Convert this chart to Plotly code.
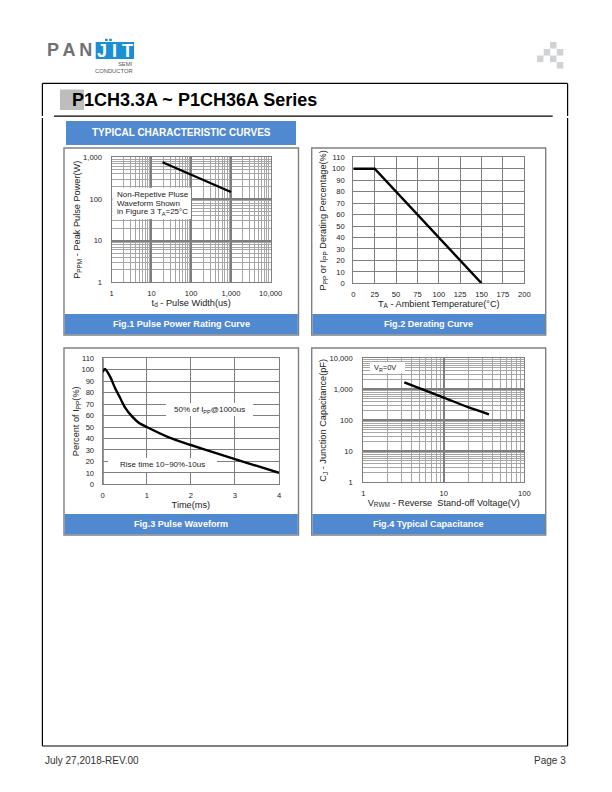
import plotly.graph_objects as go

# ---- data ----
fig1_width_us = [19, 100, 1000]
fig1_power_w = [760, 382, 147]
fig1_xticks = [1, 10, 100, 1000, 10000]
fig1_xlabels = ["1", "10", "100", "1,000", "10,000"]
fig1_yticks = [1, 10, 100, 1000]
fig1_ylabels = ["1", "10", "100", "1,000"]

fig2_temp = [0, 25, 150]
fig2_pct = [100, 100, 0]
fig2_xticks = [0, 25, 50, 75, 100, 125, 150, 175, 200]
fig2_yticks = [0, 10, 20, 30, 40, 50, 60, 70, 80, 90, 100, 110]

fig3_time = [0, 0.05, 0.167, 0.28, 0.394, 0.508, 0.66, 0.81, 1, 1.5, 2, 2.5, 3, 3.5, 4]
fig3_pct = [98, 100.6, 94, 84, 75.5, 67, 59.5, 54, 50, 41, 34.3, 28, 22, 16, 10]
fig3_xticks = [0, 1, 2, 3, 4]
fig3_yticks = [0, 10, 20, 30, 40, 50, 60, 70, 80, 90, 100, 110]

fig4_volt = [3.23, 10, 20, 36.4]
fig4_cap = [1680, 540, 265, 156]
fig4_xticks = [1, 10, 100]
fig4_xlabels = ["1", "10", "100"]
fig4_yticks = [1, 10, 100, 1000, 10000]
fig4_ylabels = ["1", "10", "100", "1,000", "10,000"]

captions = ["Fig.1 Pulse Power Rating Curve", "Fig.2 Derating Curve",
            "Fig.3 Pulse Waveform", "Fig.4 Typical Capacitance"]

W, H = 612, 792
FONT = "Liberation Sans"
BLUE = "#5189d1"
GREY = "#808080"
INK = "#222222"

def px(x):
    return x / W

def py(y):
    return 1 - y / H

fig = go.Figure()
shapes = []
notes = []

def rect(x0, y0, x1, y1, fill=None, line=None, lw=0, layer="below"):
    shapes.append(dict(type="rect", xref="paper", yref="paper", x0=px(x0), x1=px(x1),
                       y0=py(y0), y1=py(y1), fillcolor=fill or "rgba(0,0,0,0)",
                       line=dict(color=line or "rgba(0,0,0,0)", width=lw), layer=layer))

def hv(x0, y0, x1, y1, color="#000000", lw=1.2):
    shapes.append(dict(type="line", xref="paper", yref="paper", x0=px(x0), x1=px(x1),
                       y0=py(y0), y1=py(y1), line=dict(color=color, width=lw), layer="below"))

def text(x, y, s, size=8, color=INK, anchor="center", bold=False, rot=0):
    if bold:
        s = "<b>" + s + "</b>"
    notes.append(dict(xref="paper", yref="paper", x=px(x), y=py(y), text=s, showarrow=False,
                      xanchor=anchor, yanchor="middle", align="left", textangle=rot,
                      borderpad=0, borderwidth=0,
                      font=dict(family=FONT, size=size, color=color)))

# page frame
hv(42.4, 83.4, 567.6, 83.4)
hv(42.4, 83.4, 42.4, 116)
hv(42.4, 118, 42.4, 746)
hv(567.6, 83.4, 567.6, 116)
hv(567.6, 118, 567.6, 746)
hv(42.4, 746, 567.6, 746)
hv(54, 116.2, 552.7, 116.2)

# title
rect(60, 89.5, 84, 110, fill="#bdbdbd")
text(72, 99.5, "P1CH3.3A ~ P1CH36A Series", size=18, color="#000000", anchor="left", bold=True)
rect(66, 121, 296, 145, fill=BLUE)
text(181, 132.5, "TYPICAL CHARACTERISTIC CURVES", size=10, color="#ffffff", bold=True)

# logo
text(47, 50, "P\u2009A\u2009N", size=18, color="#707174", anchor="left", bold=True)
rect(95.7, 42, 134, 59, fill="#1b8fd6")
text(115, 51, "J I T", size=18, color="#ffffff", bold=True)
rect(105, 38.8, 107.7, 41, fill="#1b8fd6")
rect(109.2, 38.8, 111.9, 41, fill="#1b8fd6")
text(132.8, 63.8, "SEMI", size=5.8, color="#555555", anchor="right")
text(132.8, 70.6, "CONDUCTOR", size=5.8, color="#555555", anchor="right")

# corner squares
for (a, b) in [(550, 42), (543.7, 49), (556.8, 49), (537, 55.5), (550, 55.5), (556.8, 62)]:
    rect(a, b, a + 6.5, b + 6.6, fill="#d0d3d6")

# footer
text(45, 760.5, "July 27,2018-REV.00", size=10, color="#333333", anchor="left")
text(566, 760.5, "Page 3", size=10, color="#333333", anchor="right")

# panels
panels = [(64, 148, 298.5, 335), (311.7, 148, 545.7, 335),
          (64, 348, 298.5, 535), (311.7, 348, 545.7, 535)]
for (x0, y0, x1, y1), cap in zip(panels, captions):
    rect(x0, y0, x1, y1, fill="#ffffff", line=GREY, lw=1.4)
    rect(x0 + 0.7, y1 - 21, x1 - 0.7, y1 - 0.7, fill=BLUE)
    text((x0 + x1) / 2, y1 - 11.3, cap, size=9.1, color="#ffffff", bold=True)

MAJOR = dict(showgrid=True, gridcolor="#7f7f7f", showline=True, linecolor="#7f7f7f",
             ticks="", zeroline=False, tickfont=dict(family=FONT, size=7.6, color=INK), mirror=True)

def title(s, standoff, size=9.2):
    return dict(text=s, font=dict(family=FONT, size=size, color=INK), standoff=standoff)

def logaxis(vals, labels, rng, dom, ttl, standoff, gw=1.5):
    return dict(MAJOR, type="log", range=rng, domain=dom, tickmode="array", tickvals=vals,
                ticktext=labels, gridwidth=gw, linewidth=1.2, automargin=False,
                minor=dict(showgrid=True, gridcolor="#a6a6a6", gridwidth=0.7, dtick="D1", ticks=""),
                title=title(ttl, standoff))

def linaxis(vals, rng, dom, ttl, standoff):
    return dict(MAJOR, type="linear", range=rng, domain=dom, tickmode="array", tickvals=vals,
                gridwidth=1, linewidth=1.2, automargin=False, title=title(ttl, standoff))

LINE = dict(color="#000000", width=2.4)

fig.add_trace(go.Scatter(x=fig1_width_us, y=fig1_power_w, mode="lines", line=LINE,
                         xaxis="x", yaxis="y", showlegend=False))
fig.add_trace(go.Scatter(x=fig2_temp, y=fig2_pct, mode="lines", line=LINE, cliponaxis=False,
                         xaxis="x2", yaxis="y2", showlegend=False))
fig.add_trace(go.Scatter(x=fig3_time, y=fig3_pct, mode="lines", cliponaxis=False,
                         line=dict(color="#000000", width=2.4, shape="spline", smoothing=0.8),
                         xaxis="x3", yaxis="y3", showlegend=False))
fig.add_trace(go.Scatter(x=fig4_volt, y=fig4_cap, mode="lines", cliponaxis=False,
                         line=dict(color="#000000", width=2.4, shape="spline", smoothing=0.8),
                         xaxis="x4", yaxis="y4", showlegend=False))

layout = dict(
    width=W, height=H, margin=dict(l=0, r=0, t=0, b=0), autosize=False,
    paper_bgcolor="#ffffff", plot_bgcolor="#ffffff", showlegend=False,
    xaxis=logaxis(fig1_xticks, fig1_xlabels, [0, 4], [px(111.7), px(270.7)],
                  "t<sub>d</sub> - Pulse Width(us)", 0),
    yaxis=logaxis(fig1_yticks, fig1_ylabels, [0, 3], [py(282.3), py(157.3)],
                  "P<sub>PPM</sub> - Peak Pulse Power(W)", 0),
    xaxis2=linaxis(fig2_xticks, [0, 200], [px(353.3), px(524.3)],
                   "T<sub>A</sub> - Ambient Temperature(°C)", 0),
    yaxis2=linaxis(fig2_yticks, [0, 110], [py(283.3), py(157.3)],
                   "P<sub>PP</sub> or I<sub>PP</sub> Derating Percentage(%)", 3),
    xaxis3=linaxis(fig3_xticks, [0, 4], [px(102.7), px(279)], "Time(ms)", 0),
    yaxis3=linaxis(fig3_yticks, [0, 110], [py(484.3), py(358.3)],
                   "Percent of I<sub>PP</sub>(%)", 0),
    xaxis4=logaxis(fig4_xticks, fig4_xlabels, [0, 2], [px(363.3), px(524.3)],
                   "V<sub>RWM</sub> - Reverse  Stand-off Voltage(V)", 0),
    yaxis4=logaxis(fig4_yticks, fig4_ylabels, [0, 4], [py(482.3), py(358.3)],
                   "C<sub>J</sub> - Junction Capacitance(pF)", 1),
)
for k in ("xaxis", "xaxis2", "xaxis3", "xaxis4"):
    layout[k]["ticklabelstandoff"] = 3
for i, (k, s) in enumerate(zip(("yaxis", "yaxis2", "yaxis3", "yaxis4"), (7, 6, 6, 8))):
    layout[k]["ticklabelstandoff"] = s
    layout["xaxis" + ("" if i == 0 else str(i + 1))]["anchor"] = "y" + ("" if i == 0 else str(i + 1))
    layout[k]["anchor"] = "x" + ("" if i == 0 else str(i + 1))

# masks behind in-plot notes
rect(112.3, 187.7, 191, 219, fill="#ffffff", layer="above")
text(116.7, 194.3, "Non-Repetive Pluse", size=8, anchor="left")
text(116.7, 203.3, "Waveform Shown", size=8, anchor="left")
text(116.7, 212.3, "in Figure 3 T<sub>A</sub>=25°C", size=8, anchor="left")
rect(166, 403, 253, 416, fill="#ffffff", layer="above")
text(209, 409.5, "50% of I<sub>PP</sub>@1000us", size=8)
rect(108, 458, 217, 472, fill="#ffffff", layer="above")
text(162, 464.5, "Rise time 10~90%-10us", size=8)
rect(370, 362, 405, 373, fill="#ffffff", layer="above")
text(384.5, 367.5, "V<sub>R</sub>=0V", size=7.5)
# heavy left axis of Fig.3
hv(102.7, 358.3, 102.7, 484.3, color="#000000", lw=1.4)

layout["shapes"] = shapes
layout["annotations"] = notes
fig.update_layout(**layout)

fig.write_html("out.html", config=dict(displayModeBar=False),
               post_script="document.body.style.margin='0';")
